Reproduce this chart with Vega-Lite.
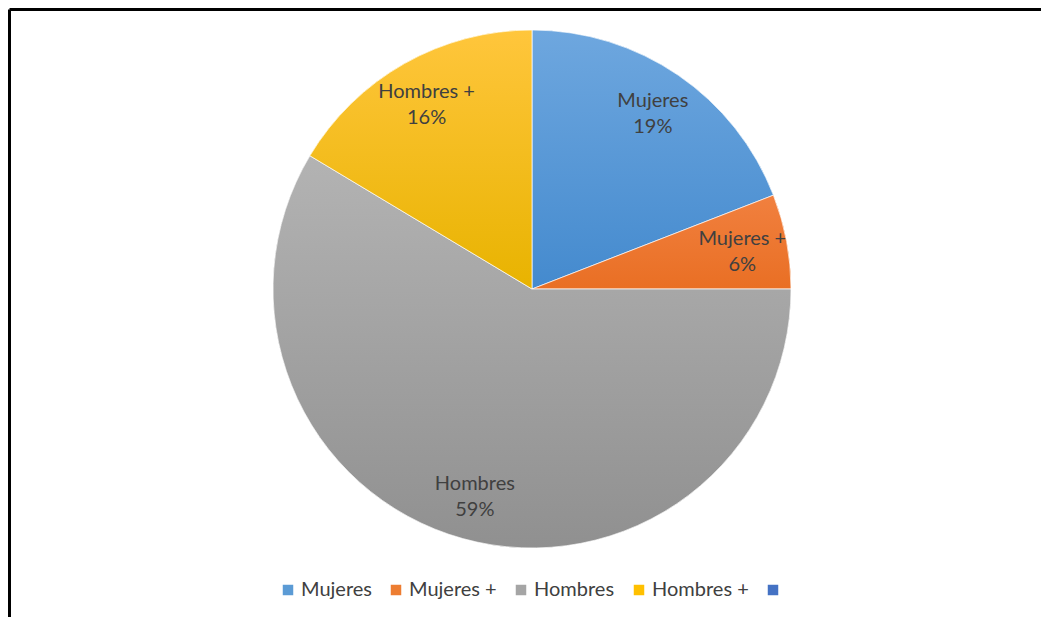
{
  "$schema": "https://vega.github.io/schema/vega-lite/v6.json",
  "autosize": {"type": "none"},
  "padding": {"left": 23, "top": 9, "right": 0, "bottom": 48},
  "width": 1018,
  "height": 560,
  "background": "white",
  "data": {
    "values": [
      {"cat": "Mujeres", "o": 1, "value": 19.1, "label": "Mujeres\n19%"},
      {"cat": "Mujeres +", "o": 2, "value": 5.9, "label": "Mujeres +\n6%"},
      {"cat": "Hombres", "o": 3, "value": 58.6, "label": "Hombres\n59%"},
      {"cat": "Hombres +", "o": 4, "value": 16.4, "label": "Hombres +\n16%"}
    ]
  },
  "transform": [
    {"stack": "value", "groupby": [], "sort": [{"field": "o", "order": "ascending"}], "as": ["v0", "v1"]}
  ],
  "layer": [
    {
      "mark": {"type": "point", "opacity": 0},
      "encoding": {
        "x": {"datum": 0, "type": "quantitative", "scale": {"domain": [0, 1], "range": [-14, 1020]},
              "axis": {"orient": "top", "domain": true, "domainColor": "black", "domainWidth": 3, "ticks": false, "labels": false, "grid": false, "title": null}},
        "y": {"datum": 0, "type": "quantitative", "scale": {"domain": [0, 1], "range": [612, 0]},
              "axis": {"orient": "left", "offset": 14, "domain": true, "domainColor": "black", "domainWidth": 3, "ticks": false, "labels": false, "grid": false, "title": null}}
      }
    },
    {
      "mark": {"type": "arc", "outerRadius": 259},
      "encoding": {
        "theta": {"field": "v0", "type": "quantitative", "scale": {"domain": [0, 100]}},
        "theta2": {"field": "v1"},
        "color": {
          "field": "cat", "type": "nominal",
          "scale": {"domain": ["Mujeres", "Mujeres +", "Hombres", "Hombres +", ""],
                    "range": ["#5b9bd5", "#ed7d31", "#a5a5a5", "#ffc000", "#4472c4"]},
          "legend": {"title": null, "orient": "bottom", "direction": "horizontal", "symbolType": "square",
                     "symbolSize": 110, "symbolStrokeWidth": 0, "labelFont": "Lato", "labelFontSize": 20,
                     "labelColor": "#404040", "columnPadding": 14, "labelOffset": 3, "offset": 11}
        }
      }
    },
    {
      "transform": [{"filter": "datum.cat == 'Mujeres'"}],
      "mark": {"type": "arc", "outerRadius": 259, "stroke": "white", "strokeWidth": 1, "strokeOpacity": 0.7,
               "fill": {"gradient": "linear", "x1": 0, "y1": 0, "x2": 0, "y2": 1,
                        "stops": [{"offset": 0, "color": "#6ea7df"}, {"offset": 1, "color": "#448ace"}]}},
      "encoding": {"theta": {"field": "v0", "type": "quantitative"}, "theta2": {"field": "v1"}}
    },
    {
      "transform": [{"filter": "datum.cat == 'Mujeres +'"}],
      "mark": {"type": "arc", "outerRadius": 259, "stroke": "white", "strokeWidth": 1, "strokeOpacity": 0.7,
               "fill": {"gradient": "linear", "x1": 0, "y1": 0, "x2": 0, "y2": 1,
                        "stops": [{"offset": 0, "color": "#f1803f"}, {"offset": 1, "color": "#e96f24"}]}},
      "encoding": {"theta": {"field": "v0", "type": "quantitative"}, "theta2": {"field": "v1"}}
    },
    {
      "transform": [{"filter": "datum.cat == 'Hombres'"}],
      "mark": {"type": "arc", "outerRadius": 259, "stroke": "white", "strokeWidth": 1, "strokeOpacity": 0.7,
               "fill": {"gradient": "linear", "x1": 0, "y1": 0, "x2": 0, "y2": 1,
                        "stops": [{"offset": 0, "color": "#b3b3b3"}, {"offset": 1, "color": "#909090"}]}},
      "encoding": {"theta": {"field": "v0", "type": "quantitative"}, "theta2": {"field": "v1"}}
    },
    {
      "transform": [{"filter": "datum.cat == 'Hombres +'"}],
      "mark": {"type": "arc", "outerRadius": 259, "stroke": "white", "strokeWidth": 1, "strokeOpacity": 0.7,
               "fill": {"gradient": "linear", "x1": 0, "y1": 0, "x2": 0, "y2": 1,
                        "stops": [{"offset": 0, "color": "#ffc63c"}, {"offset": 1, "color": "#e8b300"}]}},
      "encoding": {"theta": {"field": "v0", "type": "quantitative"}, "theta2": {"field": "v1"}}
    },
    {
      "mark": {"type": "text", "radius": 214, "font": "Lato", "fontSize": 20, "color": "#404040",
               "align": "center", "baseline": "middle", "lineBreak": "\n", "lineHeight": 26, "dy": -11},
      "encoding": {
        "theta": {"field": "value", "type": "quantitative", "stack": true},
        "order": {"field": "o", "type": "quantitative"},
        "text": {"field": "label"}
      }
    }
  ],
  "config": {
    "view": {"stroke": null},
    "legend": {"layout": {"bottom": {"anchor": "middle"}}}
  }
}
